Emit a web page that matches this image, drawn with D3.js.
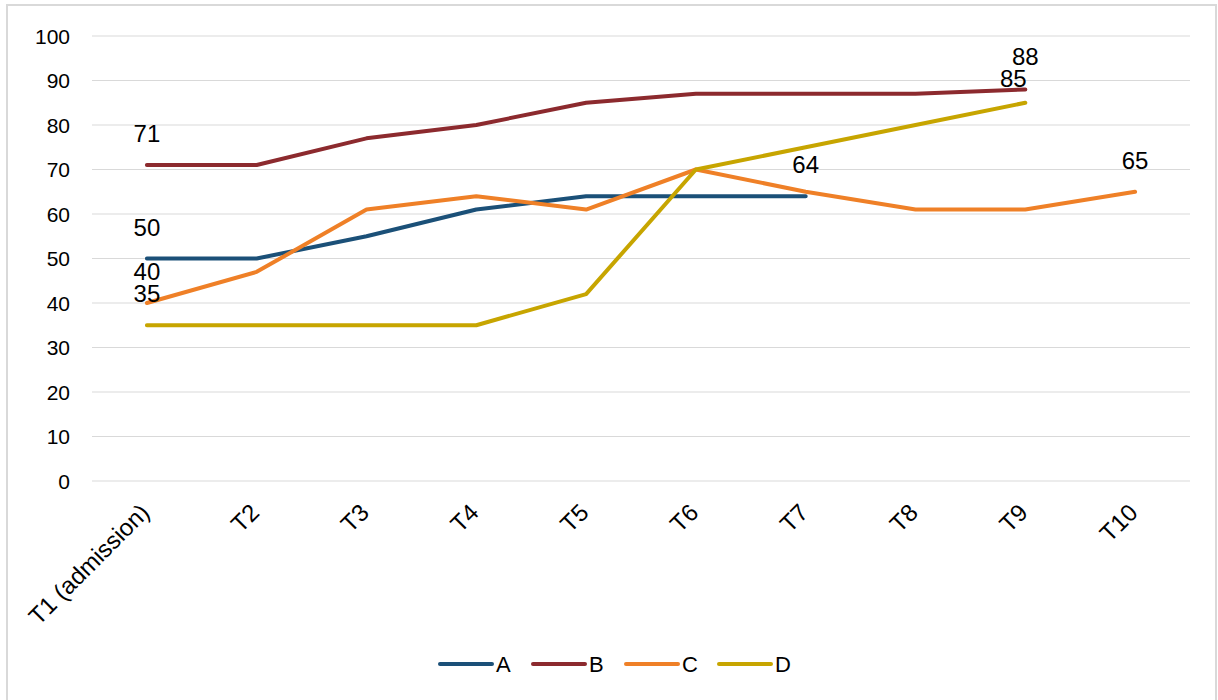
<!DOCTYPE html>
<html lang="en">
  <head>
    <meta charset="UTF-8" />
    <title>Chart</title>
    <script src="https://d3js.org/d3.v7.min.js"></script>
    <style>
      body { margin: 0; background: #fff; }
      text { font-family: "Liberation Sans", Arial, sans-serif; fill: #000; }
    </style>
  </head>
  <body>
    <svg width="1218" height="700"></svg>
    <script>
      // data
      var categories = ["T1 (admission)", "T2", "T3", "T4", "T5", "T6", "T7", "T8", "T9", "T10"];
      var seriesA = [50, 50, 55, 61, 64, 64, 64];
      var seriesB = [71, 71, 77, 80, 85, 87, 87, 87, 88];
      var seriesC = [40, 47, 61, 64, 61, 70, 65, 61, 61, 65];
      var seriesD = [35, 35, 35, 35, 42, 70, 75, 80, 85];
      var yTicks = [0, 10, 20, 30, 40, 50, 60, 70, 80, 90, 100];

      var series = [
        { name: "A", values: seriesA, color: "#1b5078" },
        { name: "B", values: seriesB, color: "#8c2a2e" },
        { name: "C", values: seriesC, color: "#ef8027" },
        { name: "D", values: seriesD, color: "#c7a500" }
      ];

      var svg = d3.select("svg");

      // outer border
      svg.append("rect")
        .attr("x", 7).attr("y", 5)
        .attr("width", 1209).attr("height", 700)
        .attr("fill", "none")
        .attr("stroke", "#d9d9d9")
        .attr("stroke-width", 2);

      var plotLeft = 92, plotRight = 1190, plotTop = 36, plotBottom = 481;

      var x = d3.scaleBand().domain(categories).range([plotLeft, plotRight]);
      var y = d3.scaleLinear().domain([0, 100]).range([plotBottom, plotTop]);

      // grid
      svg.append("g")
        .selectAll("line")
        .data(yTicks)
        .enter()
        .append("line")
        .attr("x1", plotLeft).attr("x2", plotRight)
        .attr("y1", function (d) { return y(d); })
        .attr("y2", function (d) { return y(d); })
        .attr("stroke", "#d9d9d9")
        .attr("stroke-width", 1);

      // y axis
      var yAxis = svg.append("g")
        .attr("transform", "translate(" + plotLeft + ",0)")
        .call(d3.axisLeft(y).tickValues(yTicks).tickSize(0).tickPadding(22));
      yAxis.select(".domain").remove();
      yAxis.selectAll("text").attr("font-size", "21px").attr("dy", "0.35em");

      // x axis
      var xAxis = svg.append("g")
        .attr("transform", "translate(0," + plotBottom + ")")
        .call(d3.axisBottom(x).tickSize(0));
      xAxis.select(".domain").remove();
      xAxis.selectAll("text")
        .attr("font-size", "24px")
        .attr("text-anchor", "end")
        .attr("dy", "0")
        .attr("y", 0)
        .attr("transform", "translate(4,33) rotate(-45)");

      var line = d3.line()
        .x(function (d, i) { return x(categories[i]) + x.bandwidth() / 2; })
        .y(function (d) { return y(d); });

      series.forEach(function (s) {
        svg.append("path")
          .datum(s.values)
          .attr("fill", "none")
          .attr("stroke", s.color)
          .attr("stroke-width", 4)
          .attr("stroke-linecap", "round")
          .attr("stroke-linejoin", "round")
          .attr("d", line);
      });

      // data labels on first and last points (small nudge where labels collide)
      var nudge = { "D-last": [-12, 7], "B-last": [0, -1] };
      var labels = [];
      series.forEach(function (s) {
        labels.push({ key: s.name + "-first", i: 0, v: s.values[0] });
        labels.push({ key: s.name + "-last", i: s.values.length - 1, v: s.values[s.values.length - 1] });
      });
      svg.append("g")
        .selectAll("text")
        .data(labels)
        .enter()
        .append("text")
        .attr("x", function (d) {
          var n = nudge[d.key] || [0, 0];
          return x(categories[d.i]) + x.bandwidth() / 2 + n[0];
        })
        .attr("y", function (d) {
          var n = nudge[d.key] || [0, 0];
          return y(d.v) - 23 + n[1];
        })
        .attr("text-anchor", "middle")
        .attr("font-size", "24px")
        .text(function (d) { return d.v; });

      // legend
      var legend = svg.append("g").attr("transform", "translate(440,664)");
      var lg = legend.selectAll("g")
        .data(series)
        .enter()
        .append("g")
        .attr("transform", function (d, i) { return "translate(" + (i * 93) + ",0)"; });
      lg.append("line")
        .attr("x1", 0).attr("x2", 52)
        .attr("stroke", function (d) { return d.color; })
        .attr("stroke-width", 4)
        .attr("stroke-linecap", "round");
      lg.append("text")
        .attr("x", 56)
        .attr("dy", "0.35em")
        .attr("font-size", "22px")
        .text(function (d) { return d.name; });
    </script>
  </body>
</html>
